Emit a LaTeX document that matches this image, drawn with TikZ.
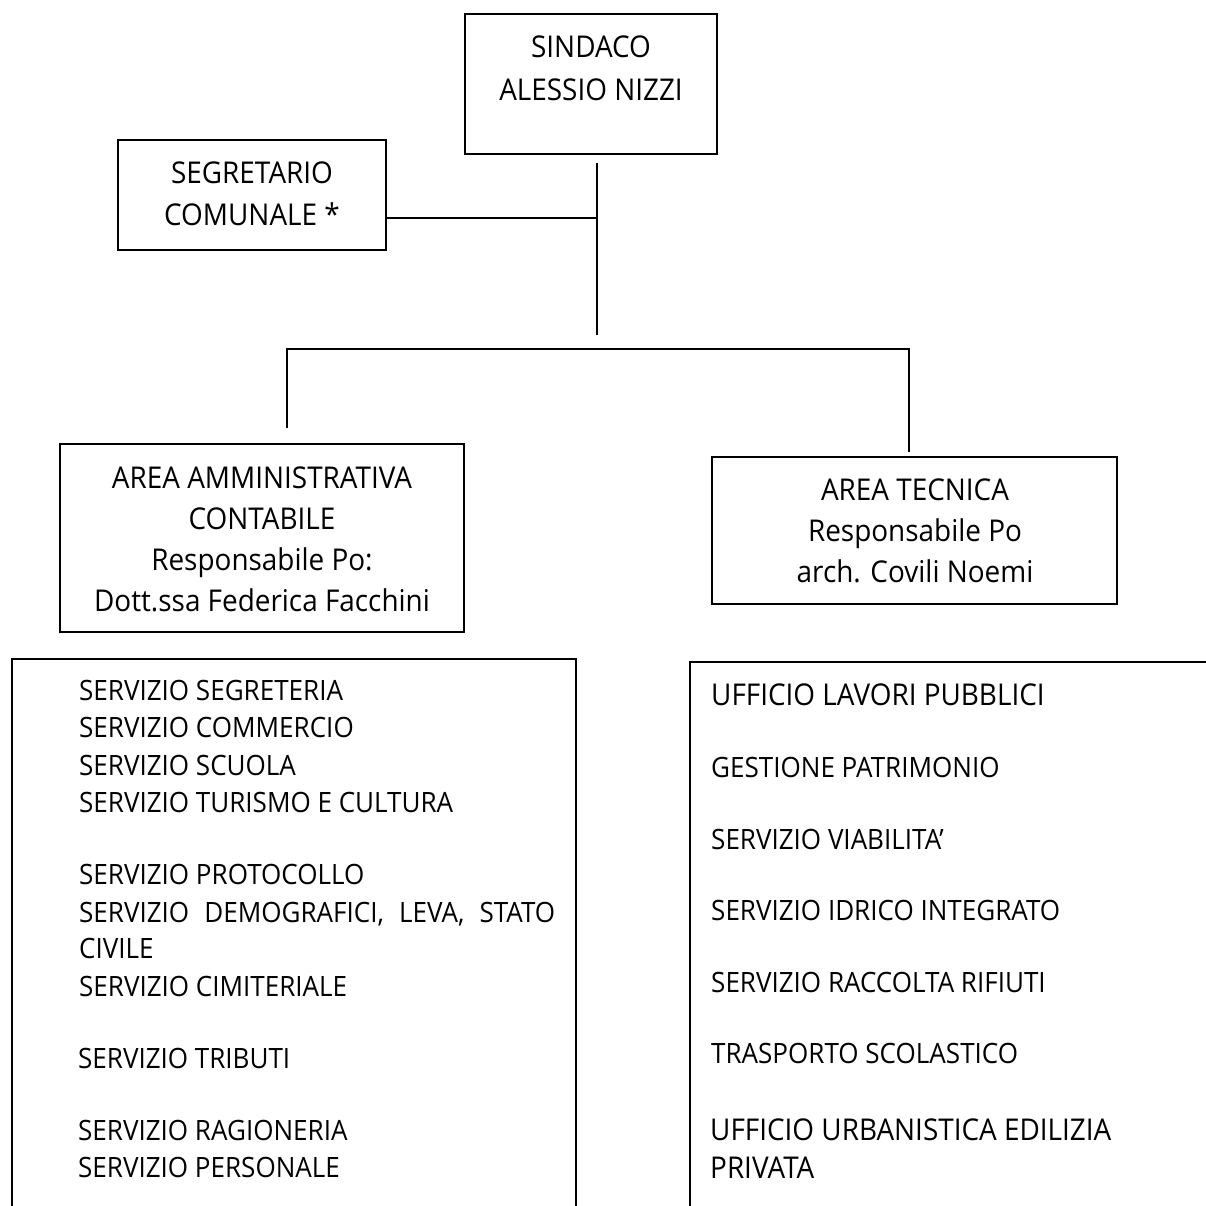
\documentclass[tikz,border=0pt]{standalone}
\usepackage{fontspec}
\setmainfont{Open Sans}[FakeStretch=0.93]
\begin{document}
\begin{tikzpicture}[x=1pt,y=-1pt,
  box/.style={draw=black,line width=1.5pt,rectangle,inner sep=0pt,fill=none},
  head/.style={anchor=north,inner sep=0pt,align=center},
  item/.style={anchor=base west,inner sep=0pt},
  conn/.style={draw=black,line width=1.5pt}]
\useasboundingbox (0,0) rectangle (1206,1205);
\clip (0,0) rectangle (1206,1205);
% boxes
\node[box,minimum width=252pt,minimum height=140pt] (sindaco) at (591,84) {};
\node[box,minimum width=268pt,minimum height=110pt] (segr) at (252,195) {};
\node[box,minimum width=404pt,minimum height=188pt] (amm) at (262,538) {};
\node[box,minimum width=405pt,minimum height=147pt] (tec) at (914.5,530.5) {};
\node[box,minimum width=564pt,minimum height=600pt] (listL) at (294,959) {};
\node[box,minimum width=560pt,minimum height=600pt] (listR) at (970,962) {};
% box texts
\node[head,font=\fontsize{30}{43}\selectfont] (sindacot) at (591,36) {SINDACO\\ALESSIO NIZZI};
\node[head,font=\fontsize{30}{42}\selectfont] (segrt) at (252,162) {SEGRETARIO\\COMUNALE *};
\node[head,font=\fontsize{30}{41}\selectfont] (ammt) at (262,467) {AREA AMMINISTRATIVA\\CONTABILE\\Responsabile Po:\\Dott.ssa Federica Facchini};
\node[head,font=\fontsize{30}{41}\selectfont] (tect) at (915,479) {AREA TECNICA\\Responsabile Po\\arch. Covili Noemi};
% connectors
\coordinate (vtop) at (597,163);
\coordinate (vjoin) at (597,218);
\coordinate (vbot) at (597,335);
\coordinate (busL) at (287,349);
\coordinate (busR) at (909,349);
\coordinate (dropL) at (287,428);
\coordinate (dropR) at (909,452);
\draw[conn] (vtop) -- (vbot);
\draw[conn] (segr.east |- vjoin) -- (vjoin);
\draw[conn] (dropL) -- (busL) -- (busR) -- (dropR);
% left list
\begin{scope}[every node/.style={item,font=\fontsize{28}{34}\selectfont}]
\node (l1) at (79,700) {SERVIZIO SEGRETERIA};
\node (l2) at (79,737) {SERVIZIO COMMERCIO};
\node (l3) at (79,775) {SERVIZIO SCUOLA};
\node (l4) at (79,812) {SERVIZIO TURISMO E CULTURA};
\node (l5) at (79,884) {SERVIZIO PROTOCOLLO};
\node (l6) at (79,922) {\hbox to 476pt{SERVIZIO\hfill DEMOGRAFICI,\hfill LEVA,\hfill STATO}};
\node (l7) at (79,958) {CIVILE};
\node (l8) at (79,996) {SERVIZIO CIMITERIALE};
\node (l9) at (78,1068) {SERVIZIO TRIBUTI};
\node (l10) at (78,1140) {SERVIZIO RAGIONERIA};
\node (l11) at (78,1177) {SERVIZIO PERSONALE};
% right list
\node[font=\fontsize{30}{36}\selectfont] (r1) at (711,705) {UFFICIO LAVORI PUBBLICI};
\node (r2) at (711,777) {GESTIONE PATRIMONIO};
\node (r3) at (711,849) {SERVIZIO VIABILITA’};
\node (r4) at (711,920) {SERVIZIO IDRICO INTEGRATO};
\node (r5) at (711,992) {SERVIZIO RACCOLTA RIFIUTI};
\node (r6) at (711,1063) {TRASPORTO SCOLASTICO};
\node[font=\fontsize{30}{36}\selectfont] (r7) at (710,1140) {UFFICIO URBANISTICA EDILIZIA};
\node[font=\fontsize{30}{36}\selectfont] (r8) at (710,1178) {PRIVATA};
\end{scope}
\end{tikzpicture}
\end{document}
